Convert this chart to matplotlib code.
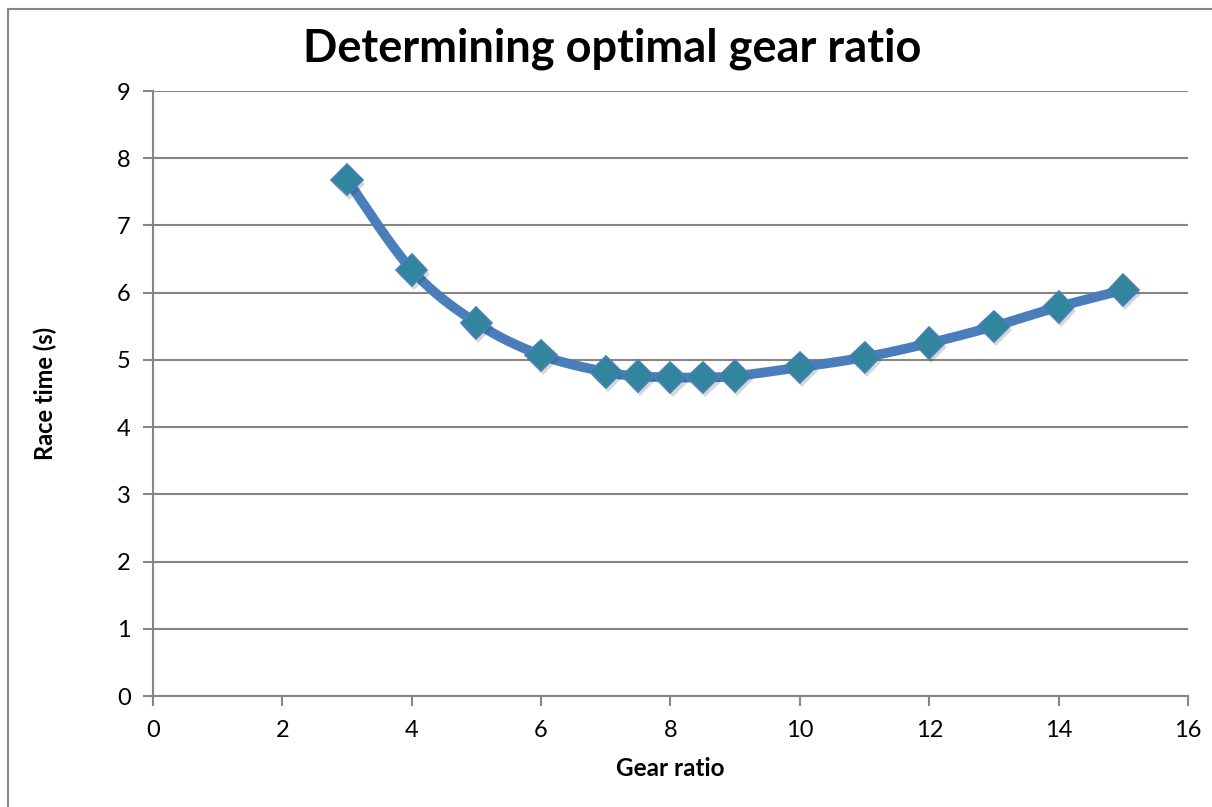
import numpy as np
import matplotlib
matplotlib.use("Agg")
import matplotlib.pyplot as plt
import matplotlib.patheffects as pe
from matplotlib.patches import Rectangle

plt.rcParams['font.family'] = ['Lato', 'DejaVu Sans']

# gear ratio vs race time
gear_ratio = [3, 4, 5, 6, 7, 7.5, 8, 8.5, 9, 10, 11, 12, 13, 14, 15]
race_time = [7.68, 6.34, 5.55, 5.07, 4.82, 4.76, 4.74, 4.74, 4.76, 4.89, 5.04, 5.25, 5.50, 5.79, 6.04]

x_ticks = list(range(0, 17, 2))
y_ticks = list(range(0, 10))


def smooth(xs, ys, n=30):
    # Catmull-Rom style curve through the points, like a spreadsheet "smoothed line"
    pts = np.column_stack([xs, ys]).astype(float)
    p = np.vstack([pts[0], pts, pts[-1]])
    out = []
    for i in range(1, len(p) - 2):
        p0, p1, p2, p3 = p[i - 1], p[i], p[i + 1], p[i + 2]
        t = np.linspace(0, 1, n, endpoint=False)[:, None]
        seg = 0.5 * ((2 * p1) + (-p0 + p2) * t + (2 * p0 - 5 * p1 + 4 * p2 - p3) * t ** 2
                     + (-p0 + 3 * p1 - 3 * p2 + p3) * t ** 3)
        out.append(seg)
    out.append(pts[-1:])
    c = np.vstack(out)
    return c[:, 0], c[:, 1]


fig = plt.figure(figsize=(12.12, 8.07), dpi=100)
ax = fig.add_axes([0.1262, 0.1375, 0.854, 0.7497])

# outer chart border
fig.patches.append(Rectangle((8 / 1212, -0.1), 1.2, 1 - 9 / 807 + 0.1, transform=fig.transFigure,
                             fill=False, edgecolor='#868686', linewidth=1.5))

sx, sy = smooth(gear_ratio, race_time)
ax.plot(sx, sy, color='#4A7EBB', linewidth=7, solid_capstyle='round', zorder=3)
ax.plot(gear_ratio, race_time, linestyle='none', marker='D', markersize=16,
        markerfacecolor='#31859C', markeredgecolor='#4A7EBB', markeredgewidth=1.2, zorder=4,
        path_effects=[pe.SimplePatchShadow(offset=(1.5, -3), alpha=0.18), pe.Normal()])

ax.set_xlim(0, 16)
ax.set_ylim(0, 9)
ax.set_xticks(x_ticks)
ax.set_yticks(y_ticks)
ax.grid(axis='y', color='#868686', linewidth=1.5)
ax.set_axisbelow(True)
for s in ['top', 'right']:
    ax.spines[s].set_visible(False)
for s in ['left', 'bottom']:
    ax.spines[s].set_color('#868686')
    ax.spines[s].set_linewidth(1.5)
ax.tick_params(axis='both', direction='out', length=7, width=1.5, color='#868686',
               labelsize=17)
ax.tick_params(axis='x', pad=10)
ax.tick_params(axis='y', pad=9)

fig.text(0.505, 1 - 62 / 807, 'Determining optimal gear ratio', fontsize=32.5,
         fontweight='bold', ha='center', va='baseline')
ax.set_xlabel('Gear ratio', fontsize=17.5, fontweight='bold', labelpad=12)
ax.set_ylabel('Race time (s)', fontsize=17, fontweight='bold', labelpad=43)

fig.savefig('out.png', dpi=100)
